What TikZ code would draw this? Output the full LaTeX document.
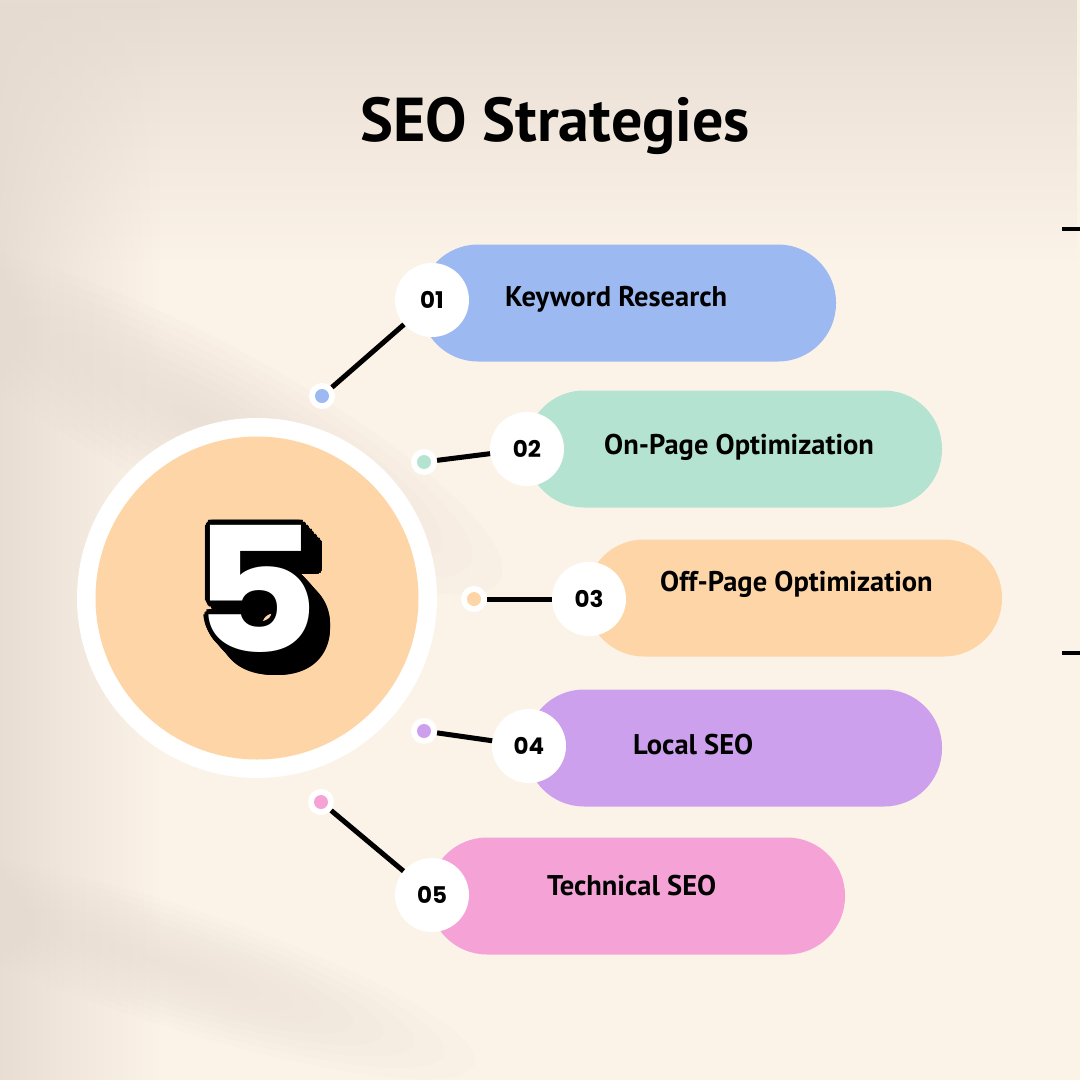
\documentclass[tikz,border=0pt]{standalone}
\usepackage{fontspec}
\usetikzlibrary{fadings}
\newfontfamily\titlefont{PT Sans}
\newfontfamily\numfont{Poppins}
\definecolor{bgcream}{HTML}{FCF3E8}
\definecolor{bgbeige}{HTML}{E6DBD0}
\definecolor{cblue}{HTML}{9DB9F2}
\definecolor{cgreen}{HTML}{B4E3D1}
\definecolor{cpeach}{HTML}{FED5A7}
\definecolor{cpurple}{HTML}{CCA0EC}
\definecolor{cpink}{HTML}{F5A3D7}
\tikzfading[name=fadedown, top color=transparent!0, bottom color=transparent!100]
\tikzfading[name=faderight, left color=transparent!0, right color=transparent!100]
\tikzset{
  pill/.style={rectangle, rounded corners=58pt, minimum width=416pt, minimum height=117pt, inner sep=0pt},
  numcirc/.style={circle, fill=white, minimum size=74pt, inner sep=0pt, font=\numfont\bfseries\fontsize{23}{23}\selectfont},
  dotring/.style={circle, fill=white, minimum size=26pt, inner sep=0pt},
  dotin/.style={circle, minimum size=14pt, inner sep=0pt},
  link/.style={line width=5pt, black},
  pilltext/.style={anchor=west, inner sep=0pt, font=\titlefont\bfseries\fontsize{28.5}{28.5}\selectfont, text height=20pt, text depth=0pt},
  fiveglyph/.style={inner sep=0pt, xscale=1.12, font=\numfont\bfseries\fontsize{174}{174}\selectfont}
}
\begin{document}
\begin{tikzpicture}[x=1pt, y=1pt]
\useasboundingbox (0,0) rectangle (1080,-1080);
% background
\fill[bgcream] (0,0) rectangle (1080,-1080);
\fill[bgbeige, path fading=fadedown, opacity=0.95] (0,0) rectangle (1080,-260);
\fill[bgbeige, path fading=faderight, opacity=0.9] (0,0) rectangle (160,-1080);
\begin{scope}[shift={(200,-420)}, rotate=-28]
\foreach \i in {1,...,10}{ \fill[bgbeige, opacity=0.1] (0,0) ellipse [x radius={34*\i}, y radius={8*\i}]; }
\end{scope}
\begin{scope}[shift={(170,-965)}, rotate=-18]
\foreach \i in {1,...,10}{ \fill[bgbeige, opacity=0.08] (0,0) ellipse [x radius={32*\i}, y radius={6*\i}]; }
\end{scope}
% title
\node[inner sep=0pt, font=\titlefont\bfseries\fontsize{62}{62}\selectfont, text height=43pt, text depth=0pt] (title) at (555,-120) {SEO Strategies};
% edge marks
\coordinate (m1a) at (1062,-229); \coordinate (m1b) at (1080,-229);
\coordinate (m2a) at (1062,-653); \coordinate (m2b) at (1080,-653);
\draw[line width=4pt] (m1a) -- (m1b);
\draw[line width=4pt] (m2a) -- (m2b);
% big circle
\node[circle, fill=white, minimum size=360pt, inner sep=0pt] (ring) at (257,-598) {};
\node[circle, fill=cpeach, minimum size=323pt, inner sep=0pt] (core) at (257,-598) {};
% the 5: white glyph, black outline and extrusion
\begin{scope}[shift={(256,-589)}]
\foreach \d in {0,18}{
  \foreach \a in {0,22.5,...,337.5}{
    \node[fiveglyph, text=black] (ol\d-\a) at ({\d*0.9+5*cos(\a)},{-\d+5*sin(\a)}) {5};
  }
}
\foreach \d in {1.5,3,...,16.5}{
  \foreach \a in {42,222}{
    \node[fiveglyph, text=black] (sd\d-\a) at ({\d*0.9+5*cos(\a)},{-\d+5*sin(\a)}) {5};
  }
}
\foreach \d in {4,8,12}{
  \node[fiveglyph, text=black] (sc\d) at ({\d*0.9},{-\d}) {5};
}
\node[fiveglyph, text=white] (five) at (0,0) {5};
\end{scope}
% pills
\node[pill, fill=cblue]   (p1) at (628,-303) {};
\node[pill, fill=cgreen]  (p2) at (734,-449) {};
\node[pill, fill=cpeach]  (p3) at (794,-598) {};
\node[pill, fill=cpurple] (p4) at (734,-748) {};
\node[pill, fill=cpink]   (p5) at (637,-896) {};
% pill texts
\node[pilltext] (t1) at (505,-296) {Keyword Research};
\node[pilltext] (t2) at (604,-444) {On-Page Optimization};
\node[pilltext] (t3) at (660,-581) {Off-Page Optimization};
\node[pilltext] (t4) at (633,-744) {Local SEO};
\node[pilltext] (t5) at (547,-885) {Technical SEO};
% number circles
\node[numcirc] (n1) at (432,-300) {01};
\node[numcirc] (n2) at (527,-449) {02};
\node[numcirc] (n3) at (589,-599) {03};
\node[numcirc] (n4) at (529,-746) {04};
\node[numcirc] (n5) at (432,-895) {05};
% dots
\node[dotring] (d1) at (322,-396) {};
\node[dotring] (d2) at (424,-462) {};
\node[dotring] (d3) at (474,-599) {};
\node[dotring] (d4) at (424,-731) {};
\node[dotring] (d5) at (321,-802) {};
\node[dotin, fill=cblue]   (e1) at (d1) {};
\node[dotin, fill=cgreen]  (e2) at (d2) {};
\node[dotin, fill=cpeach]  (e3) at (d3) {};
\node[dotin, fill=cpurple] (e4) at (d4) {};
\node[dotin, fill=cpink]   (e5) at (d5) {};
% links
\draw[link] (d1) -- (n1);
\draw[link] (d2) -- (n2);
\draw[link] (d3) -- (n3);
\draw[link] (d4) -- (n4);
\draw[link] (d5) -- (n5);
\end{tikzpicture}
\end{document}
